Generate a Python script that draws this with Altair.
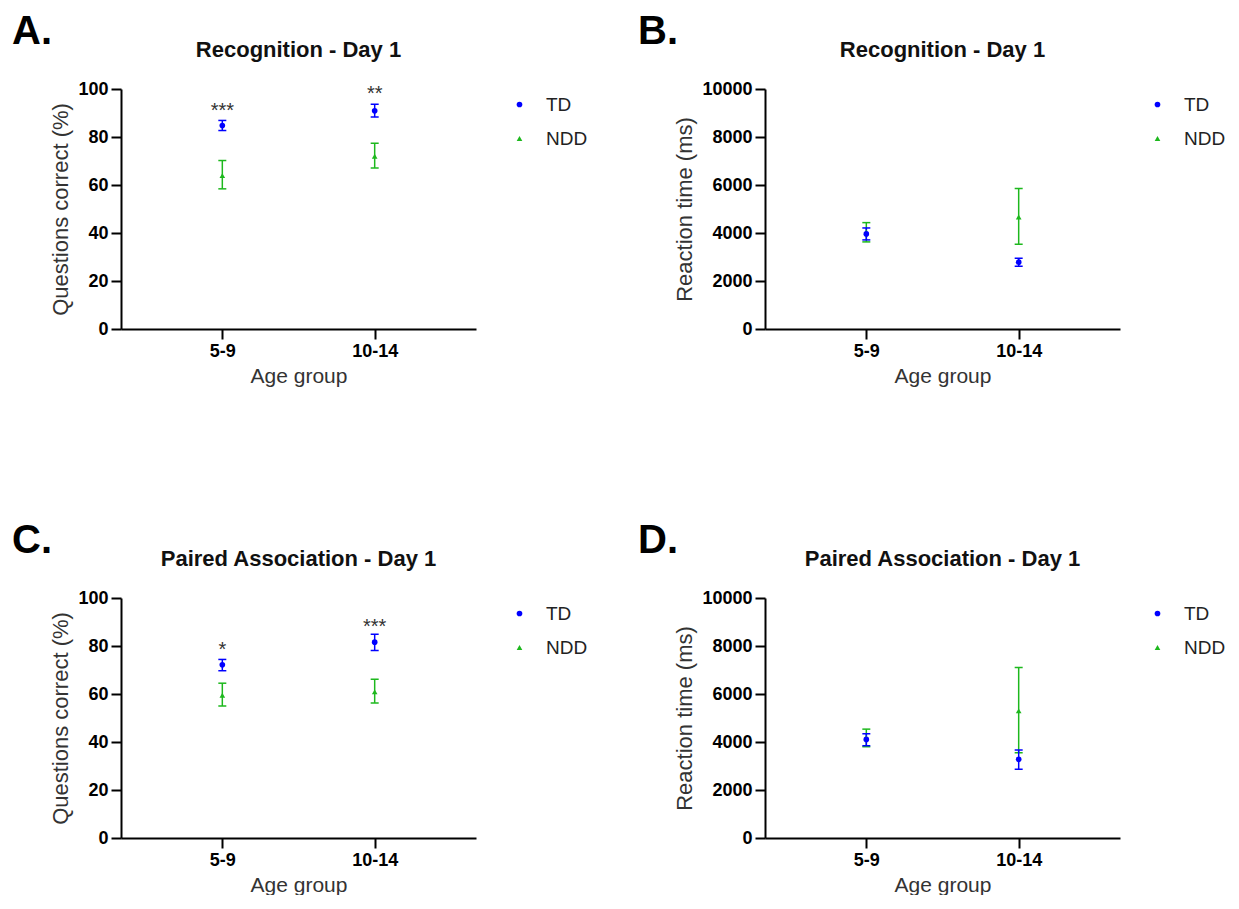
import altair as alt
import pandas as pd

ages = ["5-9", "10-14"]
groups = ["TD", "NDD"]
group_colors = ["#0000FF", "#1DB81D"]
group_shapes = ["circle", "triangle-up"]

# Panel A: Recognition - Day 1, questions correct (%)
a_td_mean = [84.8, 90.9]
a_td_lo = [82.7, 88.3]
a_td_hi = [86.9, 93.6]
a_ndd_mean = [63.9, 72.0]
a_ndd_lo = [58.4, 67.1]
a_ndd_hi = [70.2, 77.4]
a_stars = ["***", "**"]
a_star_pos = [92.6, 99.5]

# Panel B: Recognition - Day 1, reaction time (ms)
b_td_mean = [3961, 2784]
b_td_lo = [3712, 2618]
b_td_hi = [4210, 2950]
b_ndd_mean = [4030, 4667]
b_ndd_lo = [3629, 3532]
b_ndd_hi = [4432, 5858]

# Panel C: Paired Association - Day 1, questions correct (%)
c_td_mean = [72.2, 81.6]
c_td_lo = [69.7, 78.1]
c_td_hi = [74.4, 84.9]
c_ndd_mean = [59.5, 60.9]
c_ndd_lo = [55.0, 56.3]
c_ndd_hi = [64.5, 66.1]
c_stars = ["*", "***"]
c_star_pos = [80.2, 89.6]

# Panel D: Paired Association - Day 1, reaction time (ms)
d_td_mean = [4108, 3278]
d_td_lo = [3845, 2863]
d_td_hi = [4343, 3665]
d_ndd_mean = [4170, 5297]
d_ndd_lo = [3803, 3554]
d_ndd_hi = [4536, 7108]

FONT = "Liberation Sans"
W, H = 355, 240


def panel(letter, letter_x, letter_y, title, ytitle, ymax, ystep,
          td_mean, td_lo, td_hi, ndd_mean, ndd_lo, ndd_hi,
          stars, star_pos, legend_x):
    rows = []
    for g, m, lo, hi in [("NDD", ndd_mean, ndd_lo, ndd_hi),
                         ("TD", td_mean, td_lo, td_hi)]:
        for i, a in enumerate(ages):
            rows.append({"age": a, "group": g, "mean": m[i], "lo": lo[i], "hi": hi[i]})
    df = pd.DataFrame(rows)

    xscale = alt.Scale(type="point", domain=ages, padding=0.665)
    yscale = alt.Scale(domain=[0, ymax], nice=False, zero=True)
    xaxis = alt.Axis(title="Age group", labelAngle=0, labelPadding=3, titlePadding=5,
                     titleFontSize=21)
    yaxis = alt.Axis(title=ytitle, values=list(range(0, ymax + 1, ystep)), format="d",
                     labelPadding=3, titlePadding=5)

    leg = alt.Legend(title=None, orient="none", legendX=legend_x, legendY=6,
                     labelFont=FONT, labelFontSize=19, labelColor="#222",
                     symbolSize=32, labelOffset=17, rowPadding=14, padding=0,
                     symbolStrokeWidth=0)

    base = alt.Chart(df)
    x_enc = alt.X("age:N", scale=xscale, axis=xaxis)

    layers = []
    for g, col in zip(["NDD", "TD"], [group_colors[1], group_colors[0]]):
        gb = base.transform_filter(alt.datum.group == g)
        layers.append(gb.mark_rule(strokeWidth=1.5, color=col).encode(
            x=x_enc,
            y=alt.Y("lo:Q", scale=yscale, axis=yaxis),
            y2="hi:Q",
        ))
        layers.append(gb.mark_tick(size=8, thickness=1.5, color=col, opacity=1).encode(
            x=x_enc,
            y=alt.Y("hi:Q", scale=yscale, axis=yaxis),
        ))
        layers.append(gb.mark_tick(size=8, thickness=1.5, color=col, opacity=1).encode(
            x=x_enc,
            y=alt.Y("lo:Q", scale=yscale, axis=yaxis),
        ))

    points = base.mark_point(filled=True, size=32, opacity=1).encode(
        x=x_enc,
        y=alt.Y("mean:Q", scale=yscale, axis=yaxis),
        color=alt.Color("group:N", scale=alt.Scale(domain=groups, range=group_colors), legend=leg),
        shape=alt.Shape("group:N", scale=alt.Scale(domain=groups, range=group_shapes), legend=leg),
    )
    layers.append(points)

    if stars:
        sdf = pd.DataFrame({"age": ages, "s": stars, "pos": star_pos})
        star_text = alt.Chart(sdf).mark_text(font=FONT, fontSize=20, color="#333",
                                             baseline="alphabetic", dy=10).encode(
            x=x_enc,
            y=alt.Y("pos:Q", scale=yscale, axis=yaxis),
            text="s:N",
        )
        layers.append(star_text)

    title_text = alt.Chart(pd.DataFrame({"t": [title]})).mark_text(
        font=FONT, fontSize=22, fontWeight="bold", color="#111",
        align="center", baseline="middle").encode(
        text="t:N", x=alt.value(W / 2), y=alt.value(-39))
    letter_text = alt.Chart(pd.DataFrame({"t": [letter]})).mark_text(
        font=FONT, fontSize=40, fontWeight="bold", color="#000",
        align="left", baseline="top").encode(
        text="t:N", x=alt.value(letter_x), y=alt.value(letter_y))
    layers += [title_text, letter_text]

    return alt.layer(*layers).properties(width=W, height=H)


pA = panel("A.", -109, -77, "Recognition - Day 1", "Questions correct (%)", 100, 20,
           a_td_mean, a_td_lo, a_td_hi, a_ndd_mean, a_ndd_lo, a_ndd_hi,
           a_stars, a_star_pos, 389)
pB = panel("B.", -127, -77, "Recognition - Day 1", "Reaction time (ms)", 10000, 2000,
           b_td_mean, b_td_lo, b_td_hi, b_ndd_mean, b_ndd_lo, b_ndd_hi,
           None, None, 383)
pC = panel("C.", -109, -77, "Paired Association - Day 1", "Questions correct (%)", 100, 20,
           c_td_mean, c_td_lo, c_td_hi, c_ndd_mean, c_ndd_lo, c_ndd_hi,
           c_stars, c_star_pos, 389)
pD = panel("D.", -127, -77, "Paired Association - Day 1", "Reaction time (ms)", 10000, 2000,
           d_td_mean, d_td_lo, d_td_hi, d_ndd_mean, d_ndd_lo, d_ndd_hi,
           None, None, 383)

chart = alt.concat(
    pA, pB, pC, pD, columns=2,
    spacing={"row": 269, "column": 289}, bounds="flush",
).resolve_scale(
    color="independent", shape="independent"
).configure_view(
    stroke=None
).configure_axis(
    grid=False,
    domainColor="#000", domainWidth=2,
    tickColor="#000", tickWidth=2, tickSize=10,
    labelFont=FONT, labelFontSize=18, labelFontWeight="bold", labelColor="#000",
    titleFont=FONT, titleFontSize=22, titleFontWeight="normal", titleColor="#333",
).properties(
    background="white",
    padding={"left": 4, "top": 4, "right": 0, "bottom": 0},
)

chart.save("out.html", embed_options={"renderer": "svg", "actions": False})
